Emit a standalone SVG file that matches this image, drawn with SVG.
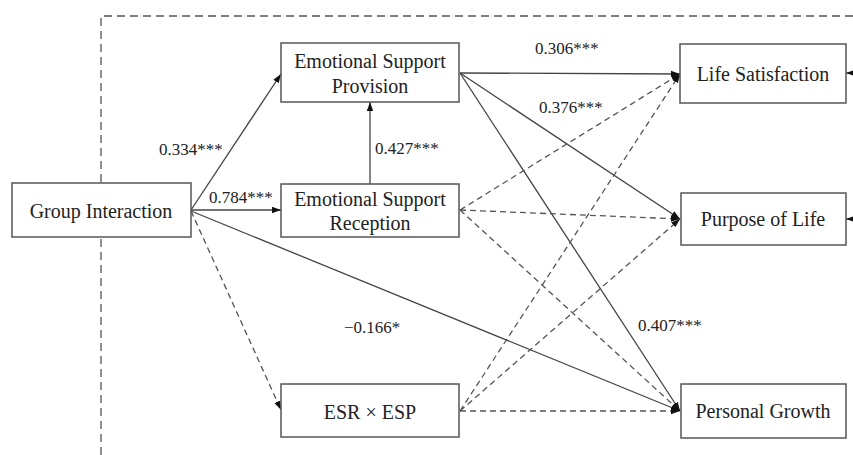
<svg xmlns="http://www.w3.org/2000/svg" width="853" height="455" viewBox="0 0 853 455">
<style>
.box{fill:#fff;stroke:#555;stroke-width:1.5}
text{font-family:'Liberation Serif','Times New Roman',Times,'DejaVu Serif',serif;fill:#222}
.t{font-size:20px;text-anchor:middle}
.l{font-size:17px}
.s{stroke:#444;stroke-width:1.3;fill:none}
.d{stroke:#555;stroke-width:1.3;fill:none;stroke-dasharray:6 4}
.frame{stroke:#555;stroke-width:1.3;fill:none;stroke-dasharray:8 5}
</style>
<defs>
<marker id="a" markerUnits="userSpaceOnUse" markerWidth="10" markerHeight="8" refX="9" refY="4" orient="auto">
<path d="M0,0.8 L9,4 L0,7.2 Z" fill="#111"/>
</marker>
</defs>
<rect width="853" height="455" fill="#fff"/>
<path class="frame" d="M101,455 L101,16 L853,16"/>
<g id="connectors">
<line class="s" x1="191" y1="210" x2="281" y2="74" marker-end="url(#a)"/>
<line class="s" x1="191" y1="210" x2="281" y2="210" marker-end="url(#a)"/>
<line class="s" x1="191" y1="211" x2="680" y2="411" marker-end="url(#a)"/>
<line class="d" x1="191" y1="211" x2="281" y2="410" marker-end="url(#a)"/>
<line class="s" x1="370" y1="184" x2="370" y2="102" marker-end="url(#a)"/>
<line class="s" x1="460" y1="73" x2="680" y2="74" marker-end="url(#a)"/>
<line class="s" x1="460" y1="73" x2="680" y2="219" marker-end="url(#a)"/>
<line class="s" x1="460" y1="73" x2="680" y2="411" marker-end="url(#a)"/>
<line class="d" x1="460" y1="210" x2="680" y2="74" marker-end="url(#a)"/>
<line class="d" x1="460" y1="210" x2="680" y2="219" marker-end="url(#a)"/>
<line class="d" x1="460" y1="210" x2="680" y2="411" marker-end="url(#a)"/>
<line class="d" x1="460" y1="411" x2="680" y2="74" marker-end="url(#a)"/>
<line class="d" x1="460" y1="411" x2="680" y2="219" marker-end="url(#a)"/>
<line class="d" x1="460" y1="411" x2="680" y2="411" marker-end="url(#a)"/>
<line class="s" x1="856" y1="73" x2="846" y2="73" marker-end="url(#a)"/>
<line class="s" x1="856" y1="219" x2="846" y2="219" marker-end="url(#a)"/>
</g>
<g id="labels">
<text class="l" x="535" y="54">0.306***</text>
<text class="l" x="539" y="113">0.376***</text>
<text class="l" x="375" y="154">0.427***</text>
<text class="l" x="159" y="155">0.334***</text>
<text class="l" x="209" y="203">0.784***</text>
<text class="l" x="344" y="333">−0.166*</text>
<text class="l" x="638" y="331">0.407***</text>
</g>
<g id="group-interaction">
<rect class="box" x="12" y="183" width="179" height="54"/>
<text class="t" x="101" y="218">Group Interaction</text>
</g>
<g id="esp">
<rect class="box" x="281" y="43" width="178" height="59"/>
<text class="t" x="370" y="68">Emotional Support</text>
<text class="t" x="370" y="93">Provision</text>
</g>
<g id="esr">
<rect class="box" x="281" y="184" width="178" height="53"/>
<text class="t" x="370" y="206">Emotional Support</text>
<text class="t" x="370" y="230">Reception</text>
</g>
<g id="esr-x-esp">
<rect class="box" x="281" y="384" width="178" height="53"/>
<text class="t" x="370" y="419">ESR × ESP</text>
</g>
<g id="life-satisfaction">
<rect class="box" x="680" y="44" width="166" height="59"/>
<text class="t" x="763" y="81">Life Satisfaction</text>
</g>
<g id="purpose-of-life">
<rect class="box" x="681" y="193" width="165" height="52"/>
<text class="t" x="763" y="226">Purpose of Life</text>
</g>
<g id="personal-growth">
<rect class="box" x="681" y="384" width="165" height="54"/>
<text class="t" x="763" y="418">Personal Growth</text>
</g>
</svg>
